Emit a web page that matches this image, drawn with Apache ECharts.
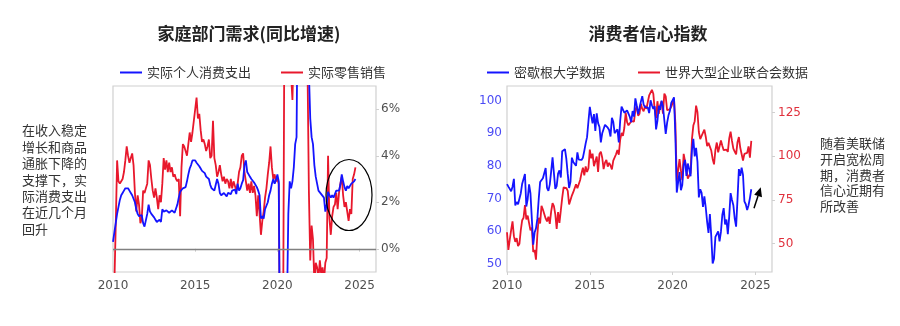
<!DOCTYPE html>
<html>
<head>
<meta charset="utf-8">
<script src="https://cdn.jsdelivr.net/npm/echarts@6/dist/echarts.min.js"></script>
<style>
html,body{margin:0;padding:0;background:#fff;}
#c{width:900px;height:326px;}
</style>
</head>
<body>
<div id="c"></div>
<script>
// ---- data (monthly, starting Jan 2010) ----
const startYear = 2010;
const yearTicks = [2010, 2015, 2020, 2025];
const pctTicks = [0, 2, 4, 6];
const umichTicks = [50, 60, 70, 80, 90, 100];
const confTicks = [50, 75, 100, 125];

const leftTitle = '家庭部门需求(同比增速)';
const rightTitle = '消费者信心指数';
const leftNames = ['实际个人消费支出', '实际零售销售'];
const rightNames = ['密歇根大学数据', '世界大型企业联合会数据'];
const leftNote = ['在收入稳定', '增长和商品', '通胀下降的', '支撑下，实', '际消费支出', '在近几个月', '回升'];
const rightNote = ['随着美联储', '开启宽松周', '期，消费者', '信心近期有', '所改善'];

// 实际个人消费支出 YoY %
const pceYoY = [
  0.3, 0.7, 1.1, 1.5, 1.8, 2.1, 2.3, 2.4, 2.5, 2.6, 2.6, 2.6,
  2.5, 2.4, 2.3, 2.35, 2.0, 1.7, 1.5, 1.4, 1.4, 1.45, 1.1, 0.95,
  0.9, 1.5, 1.9, 1.6, 1.5, 1.45, 1.35, 1.25, 1.15, 1.2, 1.25, 1.15,
  1.7, 1.6, 1.55, 1.65, 1.6, 1.55, 1.6, 1.65, 1.7, 1.55, 1.6, 1.9,
  2.2, 2.45, 2.5, 2.6, 2.6, 2.65, 2.9, 3.2, 3.45, 3.6, 3.8, 3.75,
  3.8, 3.7, 3.65, 3.55, 3.45, 3.35, 3.3, 3.25, 3.1, 3.05, 3.0, 2.75,
  2.6, 2.65, 2.5, 2.75, 3.0, 2.8, 2.4, 2.3, 2.35, 2.4, 2.45, 2.25,
  2.4, 2.45, 2.35, 2.5, 2.45, 2.55, 2.35, 2.8, 2.5, 2.6, 2.8, 2.95,
  3.6, 3.8, 3.3, 3.2, 3.1, 3.0, 2.95, 2.85, 2.8, 2.65, 2.5, 2.3,
  1.3, 1.4, 1.3, 1.7, 1.65, 2.0, 2.3, 2.5, 2.8, 3.0, 2.8, 2.95,
  3.2, 2.9, -6.0, -16.0, -11.0, -5.0, -3.0, -2.5, 1.5, 2.9, 2.6, 2.9,
  3.5, 4.5, 4.8, 12.0, 25.0, 16.0, 11.0, 9.0, 8.0, 8.5, 8.2, 7.6,
  5.6, 4.8, 4.5, 3.6, 3.1, 2.8, 2.5, 2.45, 2.35, 2.3, 2.2, 1.6,
  1.9, 2.45, 2.3, 2.2, 2.3, 2.2, 2.35, 2.5, 2.45, 2.5, 2.75, 3.2,
  2.9, 2.65, 2.5, 2.7, 2.6, 2.6, 2.8, 2.85, 2.9, 3.0
];
// 实际零售销售 YoY %
const retailYoY = [
  -2.5, -1.5, 1.0, 3.8, 2.9, 2.8, 2.9, 3.0, 3.3, 3.8, 4.4, 4.0,
  3.7, 3.9, 4.1, 3.6, 2.4, 1.6, 2.3, 1.9, 1.1, 1.3, 2.5, 2.4,
  2.6, 2.8, 3.8, 3.6, 3.0, 2.5, 2.2, 2.6, 2.2, 1.7, 2.3, 2.0,
  2.8, 3.9, 3.4, 3.8, 3.3, 3.7, 3.3, 3.5, 3.1, 3.2, 3.0, 2.9,
  3.0, 1.4, 3.5, 4.5, 4.4, 4.2, 4.0, 4.5, 5.0, 4.6, 5.0, 5.5,
  6.0, 6.5, 5.6, 5.8, 5.1, 4.6, 4.7, 4.5, 4.2, 4.4, 4.7, 3.9,
  4.0, 5.5, 3.9, 3.6, 3.1, 3.3, 3.6, 3.2, 2.9, 3.1, 2.8, 3.0,
  2.9, 2.6, 3.0, 2.6, 2.9, 2.7, 2.5, 2.8, 3.3, 3.5, 4.0, 4.1,
  3.3, 2.9, 2.5, 2.8, 2.4, 2.9, 2.4, 2.7, 2.3, 1.4, 2.3, 1.5,
  0.6, 1.2, 1.6, 2.2, 2.6, 3.2, 3.7, 4.4, 3.5, 3.0, 3.2, 2.9,
  3.0, 2.8, -5.0, -20.0, -6.0, 8.0, 9.0, 10.0, 9.0, 8.0, 7.5, 6.4,
  9.0, 8.0, 25.0, 45.0, 30.0, 18.0, 14.0, 13.0, 12.0, 11.0, 7.8, 2.5,
  -0.5, 1.0, 0.4, -1.5, -0.6, -0.8, -1.3, -0.5, -1.1, -0.8, -1.4, -0.6,
  -0.4, 4.0, 1.3, 0.6, 1.4, 1.8, 1.9, 2.4, 1.7, 2.4, 2.8, 3.1,
  2.3, 1.8, 2.0, 1.6, 1.2, 1.7, 1.5, 3.0, 3.2, 3.5
];
// 密歇根大学消费者信心指数
const umich = [
  74.4, 73.6, 73.6, 72.2, 73.6, 76.0, 67.8, 68.9, 68.2, 67.7, 71.6, 74.5,
  74.2, 77.5, 67.5, 69.8, 74.3, 71.5, 63.7, 55.8, 59.5, 60.8, 63.7, 69.9,
  75.0, 75.3, 76.2, 76.4, 79.3, 73.2, 72.3, 74.3, 78.3, 82.6, 82.7, 72.9,
  73.8, 77.6, 78.6, 76.4, 84.5, 84.1, 85.1, 82.1, 77.5, 73.2, 75.1, 82.5,
  81.2, 81.6, 80.0, 84.1, 81.9, 82.5, 81.8, 82.5, 84.6, 86.9, 88.8, 93.6,
  98.1, 95.4, 93.0, 95.9, 90.7, 96.1, 93.1, 91.9, 87.2, 90.0, 91.3, 92.6,
  92.0, 91.7, 91.0, 89.0, 94.7, 93.5, 90.0, 89.8, 91.2, 87.2, 93.8, 98.2,
  98.5, 96.3, 96.9, 97.0, 97.1, 95.0, 93.4, 96.8, 95.1, 100.7, 98.5, 95.9,
  95.7, 99.7, 101.4, 98.8, 98.0, 98.2, 97.9, 96.2, 100.1, 98.6, 97.5, 98.3,
  91.2, 93.8, 98.4, 97.2, 100.0, 98.2, 98.4, 89.8, 93.2, 95.5, 96.8, 99.3,
  99.8, 101.0, 89.1, 71.8, 72.3, 78.1, 72.5, 74.1, 80.4, 81.8, 76.9, 80.7,
  79.0, 76.8, 84.9, 88.3, 82.9, 85.5, 81.2, 70.3, 72.8, 71.7, 67.4, 70.6,
  67.2, 62.8, 59.4, 65.2, 58.4, 50.0, 51.5, 58.2, 58.6, 59.9, 56.8, 59.7,
  64.9, 67.0, 62.0, 63.5, 59.0, 64.4, 71.6, 69.5, 67.9, 63.8, 61.3, 69.7,
  79.0, 76.9, 79.4, 77.2, 69.1, 68.2, 66.4, 67.9, 70.1, 72.8
];
// 世界大型企业联合会消费者信心指数
const confBoard = [
  56.5, 46.4, 52.3, 57.7, 62.7, 54.3, 51.0, 53.2, 48.6, 49.9, 57.8, 63.4,
  64.8, 72.0, 63.8, 66.0, 61.7, 57.6, 59.2, 45.2, 46.4, 40.9, 55.2, 64.8,
  61.5, 71.6, 69.5, 68.7, 64.4, 62.7, 65.4, 61.3, 68.4, 73.1, 71.5, 66.7,
  58.4, 68.0, 61.9, 69.0, 76.2, 82.1, 81.0, 81.8, 80.2, 72.4, 72.0, 77.5,
  79.4, 78.3, 83.9, 81.7, 82.2, 86.4, 90.3, 93.4, 89.0, 94.1, 91.0, 93.1,
  103.8, 98.8, 101.4, 94.3, 94.6, 99.8, 91.0, 101.3, 102.6, 99.1, 92.6, 96.3,
  97.8, 94.0, 96.2, 94.7, 92.4, 97.4, 96.7, 101.1, 103.5, 100.8, 109.4, 113.3,
  111.6, 116.1, 124.9, 119.4, 117.6, 117.3, 120.0, 120.4, 119.8, 126.2, 128.6, 123.1,
  124.3, 130.0, 127.0, 125.6, 128.8, 127.1, 127.9, 134.7, 135.3, 137.9, 135.7, 126.6,
  121.7, 131.4, 124.2, 129.2, 131.3, 124.3, 135.8, 134.2, 126.3, 126.1, 126.8, 128.2,
  130.4, 132.6, 118.8, 85.7, 85.9, 98.3, 91.7, 86.3, 101.3, 101.4, 92.9, 87.1,
  88.9, 90.4, 109.7, 117.5, 120.0, 128.9, 125.1, 113.8, 109.8, 111.6, 111.9, 115.2,
  111.1, 105.7, 107.6, 108.6, 103.2, 98.4, 95.3, 103.6, 107.8, 102.2, 101.4, 109.0,
  106.0, 103.4, 104.0, 103.7, 102.5, 110.1, 114.0, 108.7, 104.3, 102.6, 101.0, 108.0,
  110.9, 104.8, 104.7, 97.5, 101.3, 100.4, 101.9, 105.6, 99.2, 108.7
];

// pair each monthly value with its date (decimal year)
function byMonth(arr) {
  return arr.map((v, i) => [startYear + i / 12, v]);
}

const BLUE = '#1414ff';
const RED = '#e8182c';
const GREY_TXT = '#505050';
const FRAME = '#d0d0d0';
const CJK = '"Noto Sans CJK SC", sans-serif';
const NUM = '"DejaVu Sans", sans-serif';

function xAxisCfg(gi) {
  return {
    type: 'value', gridIndex: gi, min: 2010, max: 2026,
    axisLine: { show: false },
    splitLine: { show: false },
    axisTick: { show: true, length: 3, lineStyle: { color: FRAME }, customValues: yearTicks },
    axisLabel: { customValues: yearTicks, formatter: v => String(v), color: GREY_TXT, fontFamily: NUM, fontSize: 12, margin: 8 }
  };
}

const chart = echarts.init(document.getElementById('c'), null, { renderer: 'canvas' });

function noteLines(lines, x, y0, lh) {
  return lines.map((t, i) => ({
    type: 'text', left: x, top: y0 + i * lh,
    style: { text: t, fill: '#333', font: '13px ' + CJK }
  }));
}

const option = {
  animation: false,
  backgroundColor: '#fff',
  grid: [
    { left: 113, top: 86, width: 263, height: 186, show: true, borderColor: FRAME, borderWidth: 1.2 },
    { left: 507, top: 86, width: 265, height: 186, show: true, borderColor: FRAME, borderWidth: 1.2 }
  ],
  legend: [
    { data: leftNames, left: 115, top: 61, icon: 'rect', itemWidth: 22, itemHeight: 2, itemGap: 30,
      textStyle: { color: '#333', fontFamily: CJK, fontSize: 13 } },
    { data: rightNames, left: 482, top: 61, icon: 'rect', itemWidth: 22, itemHeight: 2, itemGap: 33,
      textStyle: { color: '#333', fontFamily: CJK, fontSize: 13 } }
  ],
  xAxis: [xAxisCfg(0), xAxisCfg(1)],
  yAxis: [
    { type: 'value', gridIndex: 0, position: 'right', min: -1, max: 7,
      axisLine: { show: false }, splitLine: { show: false },
      axisTick: { show: true, length: 3, lineStyle: { color: FRAME }, customValues: pctTicks },
      axisLabel: { customValues: pctTicks, formatter: v => v + '%', color: GREY_TXT, fontFamily: NUM, fontSize: 12, margin: 5 } },
    { type: 'value', gridIndex: 1, position: 'left', min: 47.4, max: 104.5,
      axisLine: { show: false }, splitLine: { show: false },
      axisTick: { show: false },
      axisLabel: { customValues: umichTicks, color: '#4a4af5', fontFamily: NUM, fontSize: 12, margin: 5 } },
    { type: 'value', gridIndex: 1, position: 'right', min: 33.8, max: 140.1,
      axisLine: { show: false }, splitLine: { show: false },
      axisTick: { show: true, length: 3, lineStyle: { color: FRAME }, customValues: confTicks },
      axisLabel: { customValues: confTicks, color: '#e0303c', fontFamily: NUM, fontSize: 12, margin: 6 } }
  ],
  series: [
    { name: leftNames[0], type: 'line', xAxisIndex: 0, yAxisIndex: 0, data: byMonth(pceYoY),
      showSymbol: false, lineStyle: { color: BLUE, width: 1.8 }, itemStyle: { color: BLUE }, z: 3,
      markLine: { silent: true, symbol: 'none', label: { show: false },
        lineStyle: { color: '#808080', width: 1.3, type: 'solid' }, data: [{ yAxis: 0 }] } },
    { name: leftNames[1], type: 'line', xAxisIndex: 0, yAxisIndex: 0, data: byMonth(retailYoY),
      showSymbol: false, lineStyle: { color: RED, width: 1.8 }, itemStyle: { color: RED }, z: 2 },
    { name: rightNames[0], type: 'line', xAxisIndex: 1, yAxisIndex: 1, data: byMonth(umich),
      showSymbol: false, lineStyle: { color: BLUE, width: 1.8 }, itemStyle: { color: BLUE }, z: 3 },
    { name: rightNames[1], type: 'line', xAxisIndex: 1, yAxisIndex: 2, data: byMonth(confBoard),
      showSymbol: false, lineStyle: { color: RED, width: 1.8 }, itemStyle: { color: RED }, z: 2 }
  ],
  graphic: [
    { type: 'text', x: 249, y: 34, style: { text: leftTitle, fill: '#222', font: 'bold 17px ' + CJK, textAlign: 'center', textVerticalAlign: 'middle' } },
    { type: 'text', x: 648, y: 34, style: { text: rightTitle, fill: '#222', font: 'bold 17px ' + CJK, textAlign: 'center', textVerticalAlign: 'middle' } },
    ...noteLines(leftNote, 22, 124, 16.4),
    ...noteLines(rightNote, 820, 137, 15.6),
    { type: 'ellipse', shape: { cx: 349, cy: 195, rx: 23, ry: 35.5 }, style: { fill: 'none', stroke: '#000', lineWidth: 1.2 }, z: 10 },
    { type: 'line', shape: { x1: 754, y1: 208.3, x2: 758, y2: 196 }, style: { stroke: '#000', lineWidth: 1.5 }, z: 10 },
    { type: 'polygon', shape: { points: [[760.7, 187.3], [762, 197.3], [754.2, 194.7]] }, style: { fill: '#000' }, z: 10 }
  ]
};
chart.setOption(option);
</script>
</body>
</html>
